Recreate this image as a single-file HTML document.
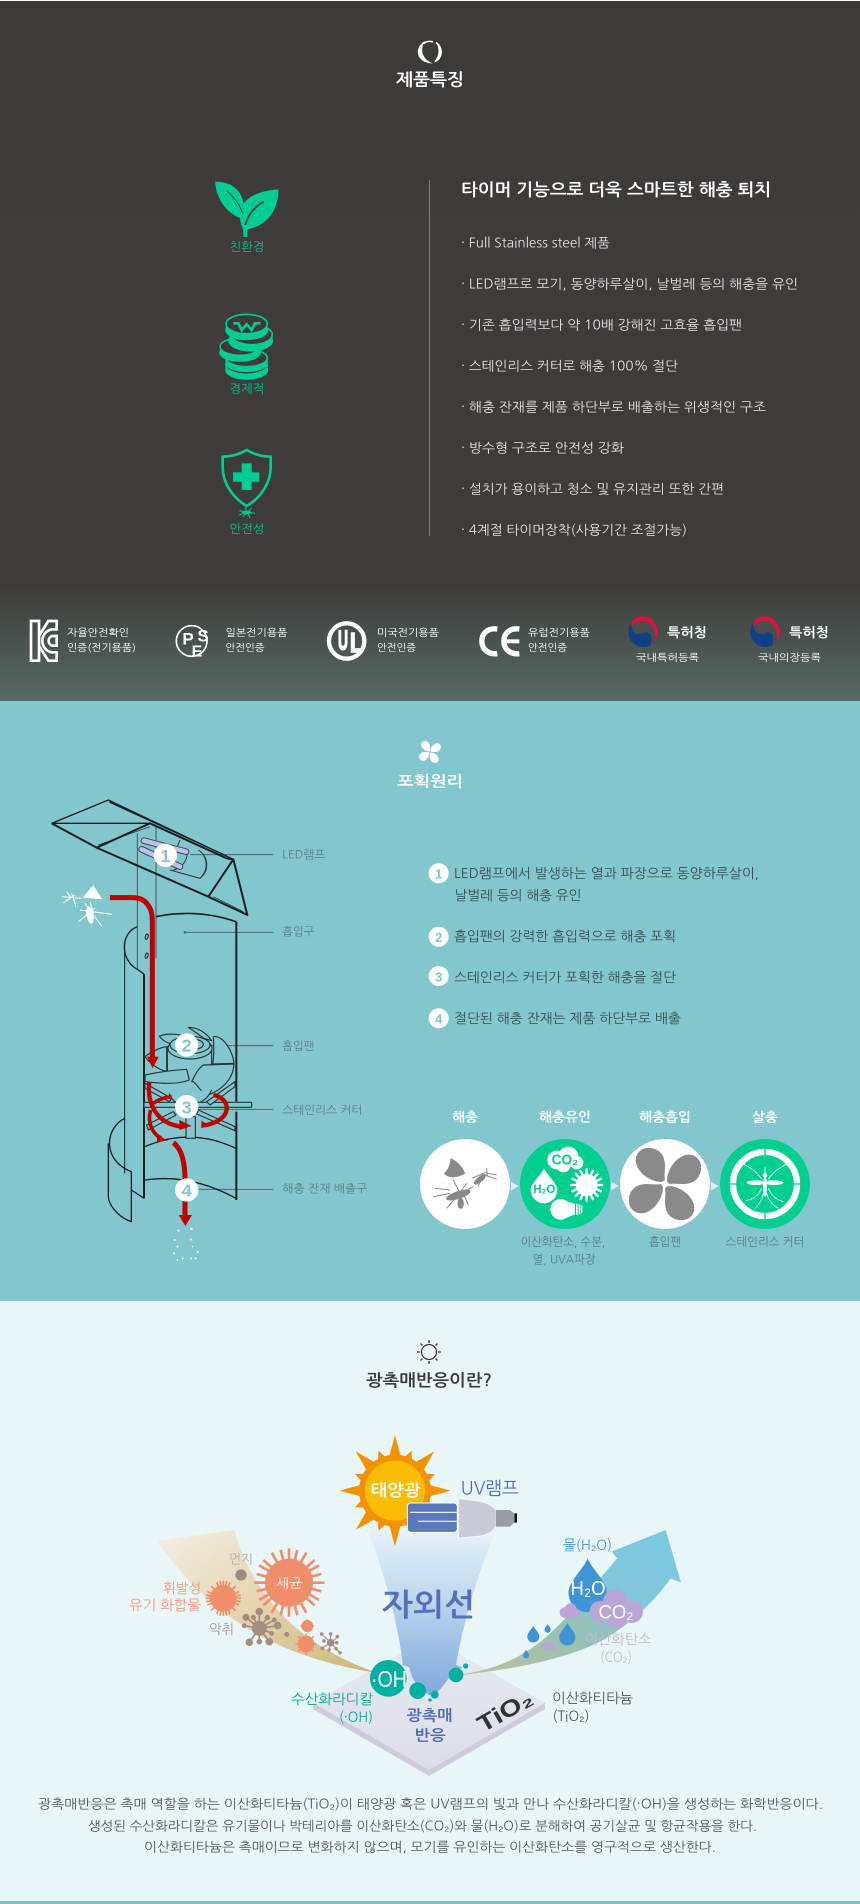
<!DOCTYPE html>
<html lang="ko"><head><meta charset="utf-8"><title>제품특징</title>
<style>
html,body{margin:0;padding:0;background:#fff}
svg{display:block}
text{font-family:"Liberation Sans","NanumGothic","Noto Sans CJK KR",sans-serif;dominant-baseline:central}
.k{font-family:"NanumGothic","Noto Sans CJK KR","Liberation Sans",sans-serif}
.b{font-weight:700}
</style></head><body>
<svg width="860" height="1904" viewBox="0 0 860 1904" xmlns="http://www.w3.org/2000/svg">
<defs>
<linearGradient id="gDark" x1="0" y1="0" x2="0" y2="1"><stop offset="0" stop-color="#3e3a39"/><stop offset=".835" stop-color="#3e3c3b"/><stop offset="1" stop-color="#566b63"/></linearGradient>
<linearGradient id="gCone" x1="0" y1="0" x2="0" y2="1"><stop offset="0" stop-color="#eef7fb"/><stop offset=".4" stop-color="#c4dbf0"/><stop offset="1" stop-color="#7fa9dd"/></linearGradient>
<linearGradient id="gLeft" x1="0" y1="0" x2="1" y2="1"><stop offset="0" stop-color="#f3efe6"/><stop offset=".5" stop-color="#e5d3ae"/><stop offset="1" stop-color="#c9b774"/></linearGradient>
<linearGradient id="gRight" x1="0" y1="1" x2="1" y2="0"><stop offset="0" stop-color="#bfc09a"/><stop offset=".4" stop-color="#95c2b3"/><stop offset=".7" stop-color="#7fc8dc"/><stop offset="1" stop-color="#7cc9e4"/></linearGradient>
<linearGradient id="gPlate" x1="0" y1="0" x2="0" y2="1"><stop offset="0" stop-color="#e6eaf1"/><stop offset="1" stop-color="#dcdde9"/></linearGradient>
<path id="blade" d="M0,-12 C-4,-32 4,-48 -3,-72 C-12,-108 -66,-114 -80,-84 C-98,-50 -50,-4 -8,-6 Z"/>
<path id="drop" d="M0,-1 C.15,-.6 .72,-.15 .72,.3 A.72,.72 0 1 1 -.72,.3 C-.72,-.15 -.15,-.6 0,-1Z"/>
</defs>

<!-- SECTION 1 -->
<rect x="0" y="0" width="860" height="1" fill="#fff"/>
<rect x="0" y="1" width="860" height="700" fill="url(#gDark)"/>
<!-- swirl -->
<path d="M436,42.500 A10.500,10.500 0 0 1 435,61 M423,44 A10.500,10.500 0 0 1 433,42" fill="none" stroke="#fff" stroke-width="1.500"/>
<path d="M425,41 C413,48 416,63 433,63.500 C423,60 419,50 425,41Z" fill="#fff"/>
<path d="M436,42 C445,49 443,60 434,62.500 C439,56 440,49 436,42Z" fill="#fff"/>
<text class="k b" x="430" y="80" text-anchor="middle" font-size="17" fill="#fff" textLength="68" lengthAdjust="spacingAndGlyphs">제품특징</text>

<g transform="translate(200,170) scale(.33333)">
 <path d="M45,35 C95,35 128,60 132,112 C133,125 130,135 124,146 C85,132 50,95 45,35Z" fill="#00cd93"/>
 <path d="M235,58 C170,62 122,88 120,132 C119,150 124,168 130,180 C200,172 236,122 235,58Z" fill="#00cd93"/>
 <path d="M192,95 C160,112 140,140 133,178" stroke="#3e3a39" stroke-width="5" fill="none"/>
 <path d="M80,62 C100,80 118,100 128,130" stroke="#3e3a39" stroke-width="3" fill="none"/>
 <rect x="130" y="165" width="12" height="36" fill="#00cd93"/>
 <!-- coins -->
 <g stroke="#00cd93" stroke-width="5" fill="#3e3a39">
  <g><ellipse cx="140" cy="600" rx="62" ry="27" fill="#00cd93"/><ellipse cx="140" cy="586" rx="62" ry="27"/></g>
  <g><ellipse cx="140" cy="578" rx="62" ry="26" fill="#00cd93"/><ellipse cx="140" cy="564" rx="62" ry="26"/></g>
  <g><ellipse cx="120" cy="547" rx="60" ry="26" fill="#00cd93"/><ellipse cx="120" cy="530" rx="60" ry="26"/></g>
  <g><ellipse cx="152" cy="512" rx="65" ry="30" fill="#00cd93"/><ellipse cx="155" cy="494" rx="62" ry="30"/></g>
  <g><ellipse cx="140" cy="480" rx="62" ry="28" fill="#00cd93"/><ellipse cx="140" cy="462" rx="62" ry="29"/></g>
 </g>
 <path d="M100,460 L115,460 L125,480 L140,463 L155,480 L165,460 L182,460" fill="none" stroke="#00cd93" stroke-width="8"/>
 <!-- shield -->
 <path d="M140,840 C165,855 190,860 212,860 L212,892 C212,940 180,985 140,1008 C100,985 68,940 68,892 L68,860 C90,860 115,855 140,840Z" fill="none" stroke="#00cd93" stroke-width="8"/>
 <rect x="125" y="880" width="30" height="80" fill="#00cd93"/><rect x="99" y="907" width="79" height="28" fill="#00cd93"/>
 <g stroke="#00cd93" stroke-width="3" fill="none"><path d="M118,1022 L165,1030 M128,1040 L155,1015 M150,1044 L135,1012 M118,1035 L140,1026"/></g>
 <ellipse cx="140" cy="1027" rx="14" ry="5" fill="#00cd93"/>
</g>
<g class="k" fill="#00c490" font-size="12" text-anchor="middle">
 <text class="k" x="247" y="247" textLength="35" lengthAdjust="spacingAndGlyphs">친환경</text>
 <text class="k" x="247" y="389" textLength="35" lengthAdjust="spacingAndGlyphs">경제적</text>
 <text class="k" x="247" y="529" textLength="35" lengthAdjust="spacingAndGlyphs">안전성</text>
</g>
<rect x="429" y="180" width="1" height="356" fill="#7d7a79"/>
<text class="k b" x="461" y="190" font-size="17" fill="#fff" textLength="310" lengthAdjust="spacingAndGlyphs">타이머 기능으로 더욱 스마트한 해충 퇴치</text>
<g fill="#e2e2e2" font-size="13">
 <text class="k" x="461" y="243" textLength="149" lengthAdjust="spacingAndGlyphs">· Full Stainless steel 제품</text>
 <text class="k" x="461" y="284" textLength="337" lengthAdjust="spacingAndGlyphs">· LED램프로 모기, 동양하루살이, 날벌레 등의 해충을 유인</text>
 <text class="k" x="461" y="325" textLength="281" lengthAdjust="spacingAndGlyphs">· 기존 흡입력보다 약 10배 강해진 고효율 흡입팬</text>
 <text class="k" x="461" y="366" textLength="217" lengthAdjust="spacingAndGlyphs">· 스테인리스 커터로 해충 100% 절단</text>
 <text class="k" x="461" y="407" textLength="305" lengthAdjust="spacingAndGlyphs">· 해충 잔재를 제품 하단부로 배출하는 위생적인 구조</text>
 <text class="k" x="461" y="448" textLength="163" lengthAdjust="spacingAndGlyphs">· 방수형 구조로 안전성 강화</text>
 <text class="k" x="461" y="489" textLength="263" lengthAdjust="spacingAndGlyphs">· 설치가 용이하고 청소 및 유지관리 또한 간편</text>
 <text class="k" x="461" y="530" textLength="226" lengthAdjust="spacingAndGlyphs">· 4계절 타이머장착(사용기간 조절가능)</text>
</g>

<!-- certification row -->
<g transform="translate(20,610) scale(.33333)">
 <path d="M33,33 H57 V152 H33Z M57,78 L85,33 H110 V58 H96 A35,35 0 0 0 96,127 H110 V152 H85 L57,108" fill="none" stroke="#fff" stroke-width="8"/>
 <path d="M110,78 H97 A15,15 0 0 0 97,107 H110Z" fill="none" stroke="#fff" stroke-width="8"/>
 <circle cx="515" cy="93" r="46" fill="none" stroke="#fff" stroke-width="5"/>
 <circle cx="980" cy="93" r="53" fill="none" stroke="#fff" stroke-width="13"/>
</g>
<g fill="#fff" font-size="17" font-weight="700"><text x="188" y="639" text-anchor="middle">P</text><text x="203" y="636" text-anchor="middle">S</text><text x="197" y="652" text-anchor="middle" font-size="16">E</text></g>
<g fill="#fff" stroke="#fff" stroke-width="1.600" font-weight="700"><text x="338" y="640" font-size="28" textLength="10" lengthAdjust="spacingAndGlyphs">U</text><text x="350" y="642.500" font-size="28" textLength="12.500" lengthAdjust="spacingAndGlyphs">L</text></g>
<g transform="translate(460,610) scale(.33333)" fill="none" stroke="#fff">
 <path d="M112,57 C50,48 50,138 112,131" stroke-width="16"/>
 <path d="M178,57 C116,48 116,138 178,131" stroke-width="16"/><path d="M135,94 H178" stroke-width="12"/>
</g>
<g fill="#fff" font-size="10">
 <text class="k" x="67" y="633" textLength="62" lengthAdjust="spacingAndGlyphs">자율안전확인</text>
 <text class="k" x="67" y="648" textLength="69" lengthAdjust="spacingAndGlyphs">인증(전기용품)</text>
 <text class="k" x="225.500" y="633" textLength="62" lengthAdjust="spacingAndGlyphs">일본전기용품</text>
 <text class="k" x="225.500" y="648" textLength="39" lengthAdjust="spacingAndGlyphs">안전인증</text>
 <text class="k" x="377" y="633" textLength="62" lengthAdjust="spacingAndGlyphs">미국전기용품</text>
 <text class="k" x="377" y="648" textLength="39" lengthAdjust="spacingAndGlyphs">안전인증</text>
 <text class="k" x="528" y="633" textLength="62" lengthAdjust="spacingAndGlyphs">유럽전기용품</text>
 <text class="k" x="528" y="648" textLength="39" lengthAdjust="spacingAndGlyphs">안전인증</text>
 <text class="k" x="636" y="658" textLength="63" lengthAdjust="spacingAndGlyphs">국내특허등록</text>
 <text class="k" x="758" y="658" textLength="63" lengthAdjust="spacingAndGlyphs">국내의장등록</text>
</g>
<text class="k b" x="667" y="632.500" font-size="13" fill="#fff" textLength="40" lengthAdjust="spacingAndGlyphs">특허청</text>
<text class="k b" x="789" y="632.500" font-size="13" fill="#fff" textLength="40" lengthAdjust="spacingAndGlyphs">특허청</text>
<g>
 <circle cx="643.300" cy="632" r="15" fill="#0f3f85"/>
 <path d="M632,626 C638,616 652,615 656,625 C660,636 654,643 650,646 C654,636 649,630 644,633 C638,636 631,633 632,626Z" fill="#4a4f4d"/>
 <path d="M631,623 C637,613 654,613 658,630 C658.500,636 656,641 654,643 C658,632 652,621 642,621 C637,621 633,624 632,628Z" fill="#d9143e"/>
</g>
<g transform="translate(122,0)"><circle cx="643.300" cy="632" r="15" fill="#0f3f85"/>
 <path d="M632,626 C638,616 652,615 656,625 C660,636 654,643 650,646 C654,636 649,630 644,633 C638,636 631,633 632,626Z" fill="#4a4f4d"/>
 <path d="M631,623 C637,613 654,613 658,630 C658.500,636 656,641 654,643 C658,632 652,621 642,621 C637,621 633,624 632,628Z" fill="#d9143e"/></g>

<!-- SECTION 2 -->
<rect x="0" y="701" width="860" height="600" fill="#82c7ce"/>
<g transform="translate(430,752) scale(.105)" fill="#fff">
 <use href="#blade"/><use href="#blade" transform="rotate(90)"/><use href="#blade" transform="rotate(180)"/><use href="#blade" transform="rotate(270)"/>
</g>
<text class="k b" x="430" y="782" text-anchor="middle" font-size="15" fill="#fff" textLength="66" lengthAdjust="spacingAndGlyphs">포획원리</text>

<g transform="translate(30,770) scale(.33333)">
 <!-- leader lines -->
 <g stroke="#55666a" stroke-width="3" fill="none"><path d="M480,254 H730 M465,487 H730 M515,827 H730 M505,1018 H730 M505,1258 H730"/></g>
 <circle cx="465" cy="487" r="4" fill="#55666a"/>
 <!-- body -->
 <g fill="none" stroke="#1a1f20" stroke-linejoin="round">
  <path d="M322,190 V598 M378,170 V565" stroke-width="3" stroke="#44595c"/>
  <path d="M65,160 L235,90 L610,268 M238,96 L590,258 M65,160 H360" stroke-width="4"/>
  <path d="M65,160 L200,233 L535,380 L652,435 L610,268 L535,380 M200,233 L360,160 L590,265 L610,268" stroke-width="6"/>
  <path d="M205,225 L360,170 M550,380 L640,425" stroke-width="2"/>
  <path d="M378,440 Q500,415 618,455" stroke-width="5"/>
  <path d="M619,455 V995 M619,1025 V1290" stroke-width="6"/>
  <path d="M342,612 V1285" stroke-width="6"/>
  <path d="M284,520 V1210" stroke-width="3"/>
  <path d="M322,470 C270,490 270,570 322,598 L342,612" stroke-width="4"/>
  <path d="M284,1045 C225,1075 215,1170 304,1205 V1355 C260,1340 235,1300 235,1280 V1120" stroke-width="4"/>
  <path d="M304,1260 L342,1285" stroke-width="4"/>
  <path d="M345,1130 Q480,1070 618,1135 M345,1230 Q480,1210 618,1285" stroke-width="4"/>
  <ellipse cx="350" cy="500" rx="4" ry="8" stroke-width="3" transform="rotate(15 350 500)"/>
  <ellipse cx="350" cy="557" rx="4" ry="8" stroke-width="3" transform="rotate(15 350 557)"/>
  <!-- lamp -->
  <path d="M450,210 L440,235 M505,240 C535,260 540,300 510,325 L420,300 M520,255 C535,280 530,305 510,325" stroke-width="3" stroke="#333"/>
  <path d="M465,235 C480,245 470,290 430,300" stroke-width="3" stroke="#333"/>
 </g>
 <g fill="none" stroke-linecap="round">
  <path d="M342,212 L468,245 M335,238 L450,290" stroke="#445" stroke-width="20"/>
  <path d="M342,212 L468,245 M335,238 L450,290" stroke="#b9c3ea" stroke-width="14"/>
 </g>
 <!-- fan -->
 <g fill="#82c7ce" stroke="#2a3436" stroke-width="3.500" stroke-linejoin="round">
  <path d="M388,798 C410,790 445,790 472,802 L425,822 C410,818 395,810 388,798Z"/>
  <path d="M475,772 C505,772 530,790 545,812 L520,804 C505,792 490,782 475,772Z"/>
  <path d="M550,800 C582,795 610,850 612,880 L548,882 C552,860 552,830 550,800Z"/>
  <path d="M345,860 C370,840 400,830 412,830 V905 C385,900 360,880 345,860Z"/>
  <path d="M410,830 V905 M545,830 V885" fill="none"/>
  <ellipse cx="480" cy="835" rx="66" ry="32"/>
  <ellipse cx="480" cy="825" rx="60" ry="26"/>
  <ellipse cx="480" cy="823" rx="40" ry="17"/>
  <path d="M345,915 C390,905 440,900 470,898 L478,930 C440,945 390,940 345,935Z"/>
  <path d="M520,885 L612,882 C610,930 570,965 525,978 C505,950 490,930 485,935 C495,915 505,895 520,885Z"/>
  <path d="M418,970 C430,1020 520,1020 545,960"/>
  <rect x="342" y="997" width="323" height="15" rx="1"/>
  <path d="M345,940 L425,985 L418,995 L345,955Z M505,1020 L615,1070 V1082 L500,1032Z M350,1065 L430,1025 L438,1035 L355,1080Z M530,995 L615,935 V950 L540,1005Z"/>
  <rect x="468" y="1040" width="28" height="65"/>
 </g>
 <!-- red arrows -->
 <g fill="none" stroke="#c00000" stroke-width="15">
  <path d="M240,383 H310 C345,383 367,410 367,450 V865"/>
  <path d="M358,935 C350,1000 380,1065 460,1070" stroke-width="13"/>
  <path d="M550,975 C605,985 610,1050 525,1066" stroke-width="13"/>
  <path d="M370,1000 C385,988 405,982 425,980" stroke-width="11"/>
  <path d="M362,1020 C350,1060 370,1095 395,1105" stroke-width="11"/>
  <path d="M430,1118 C460,1140 465,1190 465,1230 V1340" stroke-width="15"/>
 </g>
 <g fill="#c00000">
  <path d="M351,860 H386 L368,895Z"/><path d="M448,1050 L485,1068 L448,1080Z"/><path d="M514,1052 L540,1068 L514,1074Z"/>
  <path d="M380,1095 L415,1112 L382,1115Z"/><path d="M446,1335 H486 L466,1368Z"/>
 </g>
 <!-- numbered circles -->
 <g fill="#fff"><circle cx="406" cy="256" r="35"/><circle cx="470" cy="825" r="35"/><circle cx="470" cy="1010" r="35"/><circle cx="470" cy="1260" r="35"/></g>
 <g fill="#82c7ce" font-size="54" font-weight="700" text-anchor="middle">
  <text x="406" y="258">1</text><text x="470" y="827">2</text><text x="470" y="1012">3</text><text x="470" y="1262">4</text>
 </g>
 <!-- dust dots -->
 <g fill="#fff"><circle cx="446" cy="1382" r="3"/><circle cx="484" cy="1376" r="4"/><circle cx="434" cy="1410" r="3"/><circle cx="483" cy="1408" r="3"/><circle cx="442" cy="1430" r="3"/><circle cx="503" cy="1446" r="3"/><circle cx="432" cy="1450" r="3"/><circle cx="458" cy="1465" r="3"/><circle cx="483" cy="1465" r="3"/><circle cx="497" cy="1465" r="3"/><circle cx="442" cy="1470" r="3"/><circle cx="488" cy="1430" r="2"/></g>
 <!-- insects -->
 <g fill="#fff" stroke="#fff">
  <path d="M190,347 L215,387 L160,382Z" stroke-width="2"/>
  <path d="M95,380 L155,385 M100,398 L135,375 M125,370 L138,410 M110,365 L125,385" stroke-width="3" fill="none"/>
  <path d="M150,420 L245,433 M145,455 L195,415 M165,400 L215,468 M180,395 L190,430" stroke-width="3" fill="none"/>
  <ellipse cx="180" cy="435" rx="10" ry="26" transform="rotate(-10 180 435)"/>
 </g>
</g>
<g fill="#5f7d83" font-size="11.500">
 <text class="k" x="282.300" y="854.500" textLength="43" lengthAdjust="spacingAndGlyphs">LED램프</text>
 <text class="k" x="282.300" y="931.500" textLength="32" lengthAdjust="spacingAndGlyphs">흡입구</text>
 <text class="k" x="282.300" y="1046" textLength="32" lengthAdjust="spacingAndGlyphs">흡입팬</text>
 <text class="k" x="282.300" y="1110" textLength="80" lengthAdjust="spacingAndGlyphs">스테인리스 커터</text>
 <text class="k" x="282.300" y="1188.500" textLength="85" lengthAdjust="spacingAndGlyphs">해충 잔재 배출구</text>
</g>

<!-- numbered steps -->
<g fill="#fff"><circle cx="438.700" cy="873.300" r="10"/><circle cx="438.700" cy="936.700" r="10"/><circle cx="438.700" cy="976" r="10"/><circle cx="438.700" cy="1018.300" r="10"/></g>
<g fill="#82c7ce" font-size="13" font-weight="700" text-anchor="middle"><text x="438.700" y="874">1</text><text x="438.700" y="937.500">2</text><text x="438.700" y="977">3</text><text x="438.700" y="1019">4</text></g>
<g fill="#3b4c4e" font-size="13.500">
 <text class="k" x="454" y="873" textLength="305" lengthAdjust="spacingAndGlyphs">LED램프에서 발생하는 열과 파장으로 동양하루살이,</text>
 <text class="k" x="454.500" y="895" textLength="127" lengthAdjust="spacingAndGlyphs">날벌레 등의 해충 유인</text>
 <text class="k" x="454" y="936" textLength="222" lengthAdjust="spacingAndGlyphs">흡입팬의 강력한 흡입력으로 해충 포획</text>
 <text class="k" x="454" y="977" textLength="222" lengthAdjust="spacingAndGlyphs">스테인리스 커터가 포획한 해충을 절단</text>
 <text class="k" x="454" y="1018" textLength="227" lengthAdjust="spacingAndGlyphs">절단된 해충 잔재는 제품 하단부로 배출</text>
</g>
<g fill="#fff" font-size="13" font-weight="700" text-anchor="middle">
 <text class="k" x="465" y="1117" textLength="26" lengthAdjust="spacingAndGlyphs">해충</text>
 <text class="k" x="565" y="1117" textLength="52" lengthAdjust="spacingAndGlyphs">해충유인</text>
 <text class="k" x="665" y="1117" textLength="52" lengthAdjust="spacingAndGlyphs">해충흡입</text>
 <text class="k" x="765" y="1117" textLength="26" lengthAdjust="spacingAndGlyphs">살충</text>
</g>
<g transform="translate(400,840) scale(.33333)">
 <circle cx="195" cy="1032" r="135" fill="#fff"/><circle cx="495" cy="1032" r="135" fill="#00cf8f"/><circle cx="795" cy="1032" r="135" fill="#fff"/><circle cx="1095" cy="1032" r="135" fill="#00cf8f"/>
 <g fill="#d8f0f0"><path d="M333,1025 L356,1038 L333,1052Z"/><path d="M633,1025 L656,1038 L633,1052Z"/><path d="M933,1025 L956,1038 L933,1052Z"/></g>
 <!-- circle 1 insects -->
 <g fill="#888" stroke="#888">
  <path d="M152,955 C175,965 190,985 195,1000 C170,1015 145,1015 132,1000 C145,990 150,975 152,955Z" stroke-width="1"/>
  <path d="M215,1015 L255,998 L290,1005 M235,1040 L245,1005 M290,1018 L255,1005 M260,985 L262,1008" fill="none" stroke-width="3"/>
  <ellipse cx="240" cy="1018" rx="22" ry="8" transform="rotate(-40 240 1018)"/>
  <path d="M105,1045 L150,1050 M100,1070 L150,1060 M140,1105 L170,1070 M205,1095 L190,1060 M220,1040 L190,1055 M200,1030 L185,1050 M160,1020 L180,1060" fill="none" stroke-width="3"/>
  <ellipse cx="175" cy="1065" rx="38" ry="11" transform="rotate(-18 175 1065)"/>
  <ellipse cx="182" cy="1090" rx="9" ry="16"/>
 </g>
 <!-- circle 2 -->
 <g fill="#fff">
  <circle cx="470" cy="960" r="28"/><circle cx="505" cy="950" r="30"/><circle cx="530" cy="968" r="20"/><circle cx="490" cy="975" r="22"/>
  <path d="M432,985 C445,1010 472,1030 472,1050 A40,40 0 0 1 392,1050 C392,1030 420,1010 432,985Z"/>
  <circle cx="560" cy="1035" r="33"/>
  <g stroke="#fff" stroke-width="7"><path d="M560,985 V1010 M560,1060 V1085 M510,1035 H535 M585,1035 H610 M525,1000 L540,1015 M580,1055 L595,1070 M525,1070 L540,1055 M580,1015 L595,1000 M540,990 L550,1010 M570,1060 L580,1080 M515,1015 L535,1025 M585,1045 L605,1055 M580,990 L570,1010 M550,1060 L540,1080 M605,1015 L585,1025 M535,1045 L515,1055"/></g>
  <circle cx="482" cy="1108" r="31"/><path d="M482,1077 L525,1092 V1124 L482,1139Z"/><rect x="528" y="1091" width="5" height="34"/><rect x="536" y="1093" width="5" height="30"/><rect x="543" y="1097" width="4" height="22"/>
 </g>
 <text x="495" y="962" fill="#00cf8f" font-size="44" font-weight="700" text-anchor="middle" textLength="80" lengthAdjust="spacingAndGlyphs">CO₂</text>
 <text x="433" y="1047" fill="#00cf8f" font-size="36" font-weight="700" text-anchor="middle" textLength="66" lengthAdjust="spacingAndGlyphs">H₂O</text>
 <!-- circle 3 -->
 <g transform="translate(795,1032) scale(1.05)" fill="#8a8a8a">
  <use href="#blade"/><use href="#blade" transform="rotate(90)"/><use href="#blade" transform="rotate(180)"/><use href="#blade" transform="rotate(270)"/>
 </g>
 <circle cx="795" cy="1032" r="9" fill="#fff"/>
 <!-- circle 4 -->
 <circle cx="1095" cy="1032" r="96" fill="none" stroke="#fff" stroke-width="19"/>
 <path d="M1095,920 V950 M1095,1114 V1144 M985,1032 H1012 M1178,1032 H1205" stroke="#00cf8f" stroke-width="4"/>
 <g fill="#fff"><ellipse cx="1068" cy="1028" rx="28" ry="7"/><ellipse cx="1122" cy="1028" rx="28" ry="7"/><ellipse cx="1095" cy="1040" rx="6" ry="30"/><circle cx="1095" cy="1006" r="7"/></g>
 <g fill="none" stroke="#fff" stroke-width="2.500"><path d="M1095,982 V1000 M1085,1018 C1075,1000 1055,985 1030,972 M1105,1018 C1115,1000 1135,985 1160,972 M1085,1045 C1075,1065 1070,1075 1038,1082 M1105,1045 C1115,1065 1120,1075 1150,1085 M1090,1060 C1085,1085 1075,1095 1065,1105 M1100,1060 C1105,1085 1125,1100 1135,1105"/></g>
</g>
<g fill="#5c7b82" font-size="12" text-anchor="middle">
 <text class="k" x="563" y="1242" textLength="85" lengthAdjust="spacingAndGlyphs">이산화탄소, 수분,</text>
 <text class="k" x="564" y="1259.500" textLength="63" lengthAdjust="spacingAndGlyphs">열, UVA파장</text>
 <text class="k" x="665" y="1242" textLength="32" lengthAdjust="spacingAndGlyphs">흡입팬</text>
 <text class="k" x="765" y="1242" textLength="79" lengthAdjust="spacingAndGlyphs">스테인리스 커터</text>
</g>

<!-- SECTION 3 -->
<rect x="0" y="1301" width="860" height="600" fill="#e8f6f7"/>
<rect x="0" y="1901" width="860" height="3" fill="#82bcc6"/>
<g transform="translate(429,1352)" stroke="#3a3a3a" fill="none">
 <circle r="7.500" stroke-width="1.300"/>
 <path d="M0,-12 V-9 M0,12 V9 M-12,0 H-9 M12,0 H9 M-8.500,-8.500 L-6.500,-6.500 M8.500,8.500 L6.500,6.500 M-8.500,8.500 L-6.500,6.500 M8.500,-8.500 L6.500,-6.500" stroke-width="1.300"/>
</g>
<text class="k b" x="429" y="1381" text-anchor="middle" font-size="16.500" fill="#3a3a3a" textLength="126" lengthAdjust="spacingAndGlyphs">광촉매반응이란?</text>

<!-- plate -->
<path d="M313,1703 V1709 L429,1776 L545,1709 V1703Z" fill="#cfcbdc"/>
<polygon points="429,1637 545,1703 429,1770 313,1703" fill="url(#gPlate)"/>
<!-- left beam -->
<g transform="translate(125,1530) scale(.33333)">
 <path d="M97,32 L328,0 C380,180 500,340 760,430 C560,395 300,330 97,32Z" fill="url(#gLeft)"/>
 <g fill="#f08d6a">
  <circle cx="492" cy="158" r="72"/>
  <g stroke="#f08d6a" stroke-width="8"><path d="M492,55 V260 M388,158 H598 M440,68 L544,248 M402,106 L582,210 M402,210 L582,106 M440,248 L544,68 M467,60 L517,256 M415,90 L569,226 M395,132 L589,184 M395,184 L589,132 M415,226 L569,90 M467,256 L517,60"/></g>
  <circle cx="295" cy="205" r="40"/>
  <g stroke="#f08d6a" stroke-width="5"><path d="M295,152 V258 M242,205 H348 M258,168 L332,242 M258,242 L332,168 M275,157 L315,253 M247,185 L343,225 M247,225 L343,185 M275,253 L315,157 M285,153 L305,257 M243,195 L347,215 M243,215 L347,195 M285,257 L305,153"/></g>
  <circle cx="547" cy="288" r="18"/><path d="M547,266 L553,278 L569,288 L553,298 L547,310 L541,298 L525,288 L541,278Z"/>
  <circle cx="543" cy="342" r="25"/>
  <g stroke="#f08d6a" stroke-width="4"><path d="M543,310 V374 M511,342 H575 M520,319 L566,365 M520,365 L566,319"/></g>
 </g>
 <circle cx="348" cy="135" r="17" fill="#9d8a80"/>
 <g fill="#a48d80" stroke="#a48d80">
  <path d="M403,295 L403,245 M403,295 L363,262 M403,295 L458,287 M403,295 L373,337 M403,295 L433,335 M403,295 V335 M403,295 L440,310 M403,295 L358,287 M403,295 L427,263 M403,295 L385,262 M403,295 L448,270" stroke-width="5" fill="none"/>
  <circle cx="403" cy="295" r="22"/><circle cx="403" cy="245" r="11"/><circle cx="363" cy="262" r="10"/><circle cx="458" cy="287" r="11"/><circle cx="373" cy="337" r="11"/><circle cx="433" cy="335" r="11"/><circle cx="403" cy="335" r="8"/><circle cx="440" cy="310" r="7"/><circle cx="358" cy="287" r="7"/><circle cx="427" cy="263" r="8"/><circle cx="385" cy="262" r="7"/><circle cx="448" cy="270" r="7"/><circle cx="485" cy="313" r="7"/>
  <circle cx="617" cy="338" r="11"/>
  <path d="M617,338 L617,312 M617,338 L590,312 M617,338 L640,320 M617,338 L645,368 M617,338 L590,355 M617,338 L612,362 M617,338 L635,358" stroke-width="3"/>
  <circle cx="617" cy="312" r="5"/><circle cx="590" cy="312" r="5"/><circle cx="637" cy="320" r="5"/><circle cx="645" cy="368" r="5"/><circle cx="592" cy="355" r="5"/><circle cx="612" cy="360" r="5"/><circle cx="633" cy="356" r="5"/><circle cx="635" cy="338" r="5"/><circle cx="597" cy="333" r="5"/>
 </g>
</g>
<g font-size="14">
 <text class="k" x="241" y="1559" fill="#b7aca5" font-size="13" text-anchor="middle" textLength="24" lengthAdjust="spacingAndGlyphs">먼지</text>
 <text class="k" x="201" y="1589" fill="#f2997a" text-anchor="end" textLength="38" lengthAdjust="spacingAndGlyphs">휘발성</text>
 <text class="k" x="201" y="1606" fill="#f2997a" text-anchor="end" textLength="72" lengthAdjust="spacingAndGlyphs">유기 화합물</text>
 <text class="k" x="234" y="1630" fill="#a9968c" text-anchor="end" textLength="25" lengthAdjust="spacingAndGlyphs">악취</text>
</g>
<text class="k" x="289" y="1583" fill="#fff" font-size="13" text-anchor="middle" textLength="26" lengthAdjust="spacingAndGlyphs">세균</text>

<!-- right arrow -->
<g transform="translate(500,1530) scale(.33333)">
 <path d="M-111,432 C30,412 120,350 205,255 L352,85 L335,65 L497,0 L543,158 L512,145 C460,220 380,290 300,335 C200,385 60,414 -111,435Z" fill="url(#gRight)"/>
 <g fill="#3e94d6"><use href="#drop" transform="translate(263,165) scale(80)"/></g>
 <g fill="#b9a5d6">
  <circle cx="300" cy="245" r="32"/><circle cx="345" cy="215" r="36"/><circle cx="395" cy="245" r="34"/><circle cx="350" cy="262" r="34"/>
  <circle cx="195" cy="248" r="16"/><circle cx="212" cy="238" r="18"/><circle cx="228" cy="250" r="14"/><circle cx="208" cy="254" r="12"/>
  <circle cx="135" cy="352" r="9"/><circle cx="147" cy="346" r="11"/><circle cx="158" cy="353" r="8"/>
 </g>
 <g fill="#3e94d6">
  <use href="#drop" transform="translate(100,312) scale(25)"/>
  <use href="#drop" transform="translate(143,295) scale(13)"/>
  <use href="#drop" transform="translate(202,312) scale(34)"/>
  <use href="#drop" transform="translate(78,372) scale(13)"/>
 </g>
</g>
<text x="588" y="1589" fill="#fff" font-size="20" text-anchor="middle" textLength="35" lengthAdjust="spacingAndGlyphs">H₂O</text>
<text x="616" y="1613" fill="#fff" font-size="19" text-anchor="middle" textLength="35" lengthAdjust="spacingAndGlyphs">CO₂</text>
<text class="k" x="587.500" y="1546" fill="#3e94d6" font-size="14" text-anchor="middle" textLength="49" lengthAdjust="spacingAndGlyphs">물(H₂O)</text>
<text class="k" x="618" y="1640" fill="#c6b8dd" font-size="14" text-anchor="middle" textLength="67" lengthAdjust="spacingAndGlyphs">이산화탄소</text>
<text class="k" x="616" y="1658" fill="#c6b8dd" font-size="14" text-anchor="middle" textLength="32" lengthAdjust="spacingAndGlyphs">(CO₂)</text>

<!-- cone, sun, lamp -->
<g transform="translate(330,1430) scale(.33333)">
 <path d="M95,260 L490,320 C440,440 395,600 378,705 L398,712 L362,735 C340,770 320,792 305,797 C270,785 245,750 238,712 L218,705 C210,610 160,400 95,260Z" fill="url(#gCone)"/>
 <g transform="translate(195,182)" fill="#f39200">
  <circle r="108"/>
  <g><path d="M-18,-100 L0,-167 L18,-100Z"/><path d="M-18,-100 L0,-167 L18,-100Z" transform="rotate(45)"/><path d="M-18,-100 L0,-167 L18,-100Z" transform="rotate(90)"/><path d="M-18,-100 L0,-167 L18,-100Z" transform="rotate(135)"/><path d="M-18,-100 L0,-167 L18,-100Z" transform="rotate(180)"/><path d="M-18,-100 L0,-167 L18,-100Z" transform="rotate(225)"/><path d="M-18,-100 L0,-167 L18,-100Z" transform="rotate(270)"/><path d="M-18,-100 L0,-167 L18,-100Z" transform="rotate(315)"/></g>
  <g><path d="M-13,-102 L0,-130 L13,-102Z" transform="rotate(22.500)"/><path d="M-13,-102 L0,-130 L13,-102Z" transform="rotate(67.500)"/><path d="M-13,-102 L0,-130 L13,-102Z" transform="rotate(112.500)"/><path d="M-13,-102 L0,-130 L13,-102Z" transform="rotate(157.500)"/><path d="M-13,-102 L0,-130 L13,-102Z" transform="rotate(202.500)"/><path d="M-13,-102 L0,-130 L13,-102Z" transform="rotate(247.500)"/><path d="M-13,-102 L0,-130 L13,-102Z" transform="rotate(292.500)"/><path d="M-13,-102 L0,-130 L13,-102Z" transform="rotate(337.500)"/></g>
  <circle r="90" fill="#fbbc05"/>
 </g>
 <!-- UV lamp -->
 <path d="M385,205 L440,212 C470,215 490,228 497,240 L497,290 C490,305 470,318 440,320 L385,325Z" fill="#cacbd9" stroke="#f2f5f8" stroke-width="4"/>
 <rect x="232" y="219" width="150" height="88" rx="10" fill="#5a78bd" stroke="#fff" stroke-width="3"/>
 <path d="M264,274 H382 M240,247 H382" stroke="#fff" stroke-width="3.500" fill="none"/>
 <path d="M497,240 H540 L552,250 V278 L540,290 H497Z" fill="#9a9ca5"/>
 <rect x="553" y="250" width="8" height="28" fill="#111"/>
 <!-- teal circles -->
 <g fill="#00b0a0"><circle cx="175" cy="745" r="55"/><circle cx="263" cy="782" r="25"/><circle cx="314" cy="794" r="12"/><circle cx="300" cy="810" r="5"/><circle cx="378" cy="735" r="22"/><circle cx="407" cy="708" r="8"/></g>
</g>
<text class="k b" x="395.500" y="1491" fill="#fff" font-size="16.500" text-anchor="middle" textLength="50" lengthAdjust="spacingAndGlyphs">태양광</text>
<text class="k" x="460.700" y="1488.500" fill="#4f6db5" font-size="18" textLength="58" lengthAdjust="spacingAndGlyphs">UV램프</text>
<text class="k b" x="428.500" y="1605" fill="#5470b6" font-size="31" text-anchor="middle" textLength="93" lengthAdjust="spacingAndGlyphs">자외선</text>
<text x="389" y="1679" fill="#fff" font-size="23" text-anchor="middle" textLength="36" lengthAdjust="spacingAndGlyphs">·OH</text>
<text class="k b" x="429.500" y="1716" fill="#4f6db5" font-size="15" text-anchor="middle" textLength="46" lengthAdjust="spacingAndGlyphs">광촉매</text>
<text class="k b" x="430" y="1736" fill="#4f6db5" font-size="15" text-anchor="middle" textLength="31" lengthAdjust="spacingAndGlyphs">반응</text>
<text class="k" x="373" y="1700" fill="#00a99d" font-size="14" text-anchor="end" textLength="82" lengthAdjust="spacingAndGlyphs">수산화라디칼</text>
<text class="k" x="373" y="1718" fill="#00a99d" font-size="14" text-anchor="end" textLength="34" lengthAdjust="spacingAndGlyphs">(·OH)</text>
<text x="505" y="1711" fill="#333" font-size="23" font-weight="700" text-anchor="middle" transform="rotate(-30 505 1711)" textLength="60" lengthAdjust="spacingAndGlyphs">TiO₂</text>
<text class="k" x="552" y="1699" fill="#555" font-size="14" textLength="81" lengthAdjust="spacingAndGlyphs">이산화티타늄</text>
<text class="k" x="552.500" y="1717" fill="#555" font-size="14" textLength="37" lengthAdjust="spacingAndGlyphs">(TiO₂)</text>

<g fill="#555" font-size="13" text-anchor="start">
 <text class="k" x="38" y="1804" textLength="785" lengthAdjust="spacingAndGlyphs">광촉매반응은 촉매 역할을 하는 이산화티타늄(TiO₂)이 태양광 혹은 UV램프의 빛과 만나 수산화라디칼(·OH)을 생성하는 화학반응이다.</text>
 <text class="k" x="88" y="1826" textLength="669" lengthAdjust="spacingAndGlyphs">생성된 수산화라디칼은 유기물이나 박테리아를 이산화탄소(CO₂)와 물(H₂O)로 분해하여 공기살균 및 항균작용을 한다.</text>
 <text class="k" x="144" y="1847" textLength="572" lengthAdjust="spacingAndGlyphs">이산화티타늄은 촉매이므로 변화하지 않으며, 모기를 유인하는 이산화탄소를 영구적으로 생산한다.</text>
</g>
</svg>
</body></html>
